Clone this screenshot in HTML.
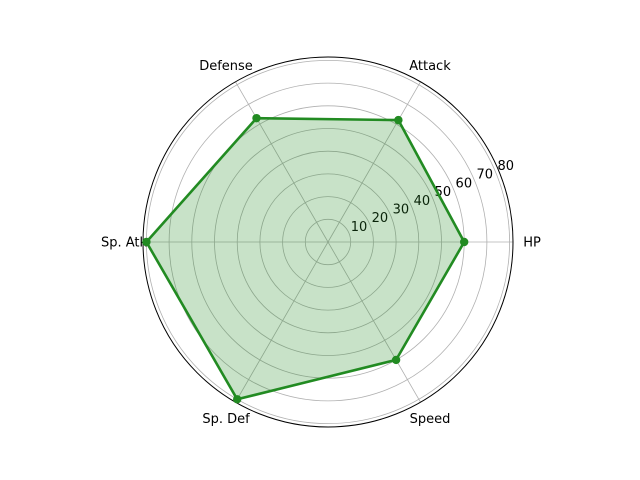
<!DOCTYPE html>
<html><head><meta charset="utf-8"><style>body{margin:0;background:#fff}svg{display:block;font-family:"DejaVu Sans","Liberation Sans",sans-serif}</style></head>
<body>
<svg id="chart" width="640" height="480"></svg>
<script>
const categories=["HP","Attack","Defense","Sp. Atk","Sp. Def","Speed"];
const values=[60,62,63,80,80,60];
const rTicks=[10,20,30,40,50,60,70,80];
const rMax=81.5;
const cx=328,cy=242,R=185;
const NS="http://www.w3.org/2000/svg";
const svg=document.getElementById("chart");
function el(t,a,p){const e=document.createElementNS(NS,t);for(const k in a)e.setAttribute(k,a[k]);(p||svg).appendChild(e);return e;}
function rs(v){return v/rMax*R;}
function ang(i){return i*2*Math.PI/categories.length;}
function pt(v,i){const r=rs(v),a=ang(i);return [cx+r*Math.cos(a),cy-r*Math.sin(a)];}
rTicks.forEach(t=>{
  const c=el("circle",{cx:cx,cy:cy,r:rs(t),fill:"none",stroke:"#b0b0b0","stroke-width":0.8});
  
  
});
categories.forEach((c,i)=>{
  const a=ang(i);
  const l=el("line",{x1:cx,y1:cy,x2:cx+R*Math.cos(a),y2:cy-R*Math.sin(a),stroke:"#b0b0b0","stroke-width":0.8});
  
  
  const tx=el("text",{x:cx+204*Math.cos(a),y:cy-204*Math.sin(a)+4.5,"text-anchor":"middle","font-size":13});
  tx.textContent=c;
  
  
});
const sp=el("circle",{cx:cx,cy:cy,r:R,fill:"none",stroke:"#000","stroke-width":1});


rTicks.forEach(t=>{
  const r=rs(t),a=Math.PI/8;
  const tx=el("text",{x:cx+r*Math.cos(a)+10,y:cy-r*Math.sin(a)-2.5,"text-anchor":"middle","font-size":13});
  tx.textContent=t;
  
  
});
const pts=values.map((v,i)=>pt(v,i));
const d=pts.map((p,i)=>(i?"L":"M")+p[0].toFixed(1)+","+p[1].toFixed(1)).join("")+"Z";
const f=el("path",{d:d,fill:"rgba(34,139,34,0.25)",stroke:"none"});


const ln=el("path",{d:d,fill:"none",stroke:"#228b22","stroke-width":2.6,"stroke-linejoin":"round"});


pts.forEach(p=>{
  const m=el("circle",{cx:p[0],cy:p[1],r:4.2,fill:"#228b22"});
  
  
});
</script>
</body></html>
